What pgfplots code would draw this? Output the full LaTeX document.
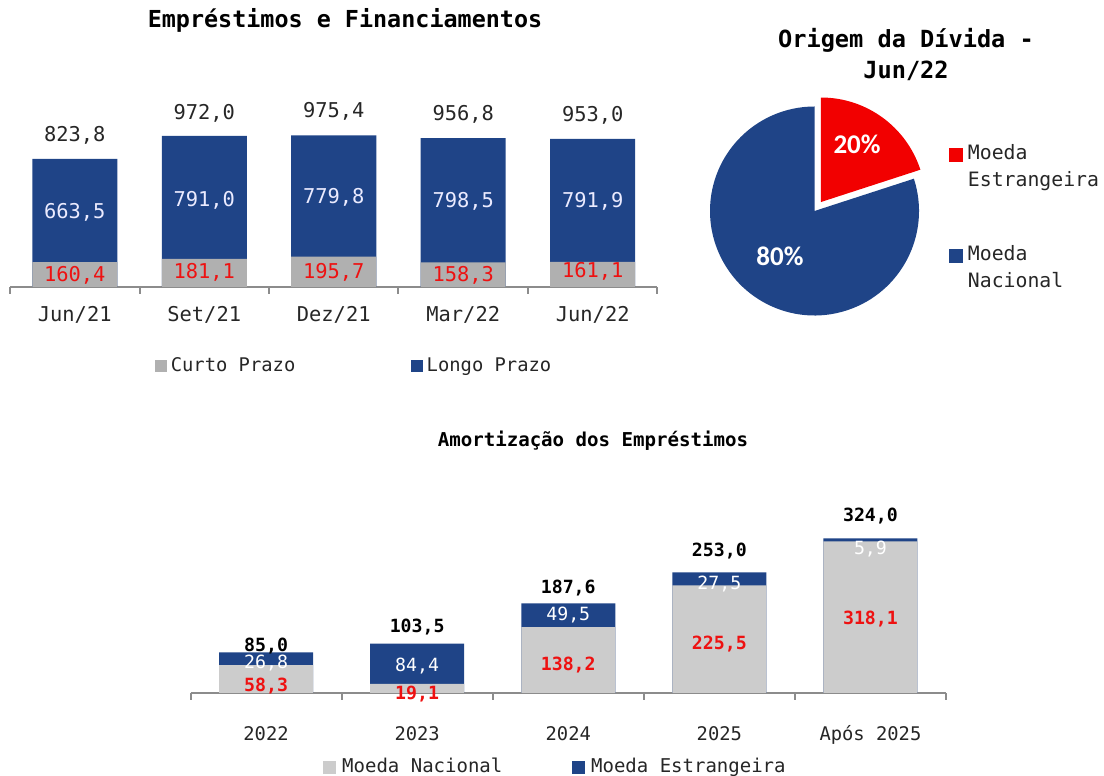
\documentclass[border=0pt]{standalone}
\usepackage{pgfplots}
\pgfplotsset{compat=1.18}
\usepackage{pgfplotstable}
\usepackage{fontspec}
\setmainfont{DejaVu Sans Mono}
\newfontfamily\piefont{Carlito}
\definecolor{cblue}{HTML}{1F4487}
\definecolor{cgrayT}{HTML}{B0B0B0}
\definecolor{cgrayB}{HTML}{CCCCCC}
\definecolor{cred}{HTML}{EE1111}
\definecolor{pred}{HTML}{F20000}
\definecolor{caxis}{HTML}{8C8C8C}

% top chart data
\pgfplotstableread{
x curto longo total
0 160.4 663.5 823.8
1 181.1 791.0 972.0
2 195.7 779.8 975.4
3 158.3 798.5 956.8
4 161.1 791.9 953.0
}\topdata
% label positions (data units)
\pgfplotstableread{
x val pos
0 823.8 984
1 972.0 1122
2 975.4 1136
3 956.8 1120
4 953.0 1110
}\toptot
\pgfplotstableread{
x val pos
0 663.5 489
1 791.0 566
2 779.8 582
3 798.5 556
4 791.9 556
}\toplongo
\pgfplotstableread{
x val pos
0 160.4 85
1 181.1 100
2 195.7 105
3 158.3 85
4 161.1 110
}\topcurto
% bottom chart data
\pgfplotstableread{
x nac est total
0 58.3 26.8 85.0
1 19.1 84.4 103.5
2 138.2 49.5 187.6
3 225.5 27.5 253.0
4 318.1 5.9 324.0
}\botdata
\pgfplotstableread{
x val pos
0 85.0 100.6
1 103.5 140.5
2 187.6 222.2
3 253.0 299.8
4 324.0 373.2
}\bottot
\pgfplotstableread{
x val pos
0 26.8 65
1 84.4 58.7
2 49.5 165.6
3 27.5 230.6
4 5.9 304
}\botest
\pgfplotstableread{
x val pos
0 58.3 16.8
1 19.1 0
2 138.2 60.8
3 225.5 104.8
4 318.1 157.2
}\botnac
% pie data (percent)
\def\pieest{20}
\def\pienac{80}

\pgfplotsset{
  lbl/.style={only marks, mark=*, mark size=0pt, mark options={draw=none,fill=none},
    point meta=explicit, nodes near coords={\pgfmathprintnumber[fixed,fixed zerofill,precision=1,use comma,assume math mode=true]{\pgfplotspointmeta}},
    every node near coord/.append style={anchor=base, inner sep=0pt, #1}},
  sqgrayT/.style={legend image code/.code={\fill[cgrayT] (0pt,-2.75pt) rectangle (5.5pt,2.75pt);}},
  sqgrayB/.style={legend image code/.code={\fill[cgrayB] (0pt,-3pt) rectangle (6pt,3pt);}},
  sqblueT/.style={legend image code/.code={\fill[cblue] (0pt,-2.75pt) rectangle (5.5pt,2.75pt);}},
  sqblueB/.style={legend image code/.code={\fill[cblue] (0pt,-3pt) rectangle (6pt,3pt);}},
  sqblueP/.style={legend image code/.code={\fill[cblue] (0pt,2.55pt) rectangle (6.4pt,8.95pt);}},
  sqredP/.style={legend image code/.code={\fill[pred] (0pt,2.55pt) rectangle (6.4pt,8.95pt);}},
}

\begin{document}
\begin{tikzpicture}
\useasboundingbox (0,0) rectangle (552pt,388pt);
% titles
\node[font=\bfseries\fontsize{11.7}{14}\selectfont] at (172.5pt,378pt) {Empréstimos e Financiamentos};
\node[font=\bfseries\fontsize{11.8}{14}\selectfont] at (453pt,368pt) {Origem da Dívida -};
\node[font=\bfseries\fontsize{11.8}{14}\selectfont] at (453pt,352.5pt) {Jun/22};
\node[font=\bfseries\fontsize{9.55}{12}\selectfont] at (296.5pt,167.5pt) {Amortização dos Empréstimos};

% ---------- top bar chart ----------
\begin{axis}[
  at={(5pt,244.5pt)}, anchor=south west,
  scale only axis, width=323.75pt, height=93.3pt,
  xmin=-0.5, xmax=4.5, ymin=0, ymax=1200,
  axis y line=none, axis x line=bottom,
  x axis line style={-, draw=caxis, line width=1pt},
  xtick={0,...,4}, xticklabels={Jun/21,Set/21,Dez/21,Mar/22,Jun/22},
  major tick length=0pt,
  extra x ticks={-0.5,0.5,1.5,2.5,3.5,4.5}, extra x tick labels={},
  extra x tick style={major tick length=3.5pt, tick align=outside, tick style={draw=caxis, line width=1pt}},
  xticklabel style={font=\fontsize{10.2}{12}\selectfont, anchor=base, yshift=-17.2pt, text=black!85},
  clip=false,
  legend columns=2,
  legend style={at={(0.224,-0.4234)}, anchor=west, draw=none, fill=none, inner sep=0pt,
    font=\fontsize{9.4}{11}\selectfont, text=black!85, nodes={inner sep=0pt},
    /tikz/every odd column/.append style={column sep=1.8pt},
    /tikz/every even column/.append style={column sep=58pt}},
  legend cell align=left,
]
\addlegendimage{sqgrayT}\addlegendentry{Curto Prazo}
\addlegendimage{sqblueT}\addlegendentry{Longo Prazo}
\addplot[ybar, bar width=42.5pt, bar shift=0pt, fill=cblue, draw=none, forget plot] table[x=x, y=total] {\topdata};
\addplot[ybar, bar width=42.5pt, bar shift=0pt, fill=cgrayT, draw=none, forget plot] table[x=x, y=curto] {\topdata};
\addplot[lbl={font=\fontsize{10.2}{12}\selectfont, text=black!85, yshift=-3.7pt}, forget plot] table[x=x, y=pos, meta=val] {\toptot};
\addplot[lbl={font=\fontsize{10.2}{12}\selectfont, text=white!92!blue, yshift=-3.7pt}, forget plot] table[x=x, y=pos, meta=val] {\toplongo};
\addplot[lbl={font=\fontsize{10.2}{12}\selectfont, text=cred, yshift=-3.7pt}, forget plot] table[x=x, y=pos, meta=val] {\topcurto};
\end{axis}

% ---------- pie chart ----------
\begin{axis}[
  at={(407.25pt,282.5pt)}, anchor=center,
  scale only axis, width=125.4pt, height=125.4pt,
  xmin=-1.2, xmax=1.2, ymin=-1.2, ymax=1.2,
  hide axis, clip=false,
  legend style={at={(1.036,0.768)}, anchor=north west, draw=none, fill=none, inner sep=0pt,
    font=\fontsize{9.9}{13.5}\selectfont, text=black!85, nodes={inner sep=0pt, align=left},
    /tikz/every odd column/.append style={column sep=2.5pt},
    /tikz/row sep=28pt},
  legend cell align=left,
]
\addlegendimage{sqredP}\addlegendentry{Moeda\\Estrangeira}
\addlegendimage{sqblueP}\addlegendentry{Moeda\\Nacional}
\pgfmathsetmacro{\angend}{90-3.6*\pieest}
\fill[cblue] (axis cs:0,0) -- (axis cs:{cos(\angend)},{sin(\angend)}) arc[start angle=\angend, end angle=-270, radius=52.25pt] -- cycle;
\fill[pred] (axis cs:0.062,0.086) -- ++(90:52.25pt) arc[start angle=90, end angle=\angend, radius=52.25pt] -- cycle;
\node[text=white, font=\piefont\bfseries\fontsize{13.5}{15}\selectfont] at (axis cs:0.407,0.641) {\pieest\%};
\node[text=white, font=\piefont\bfseries\fontsize{13.5}{15}\selectfont] at (axis cs:-0.33,-0.431) {\pienac\%};
\end{axis}

% ---------- bottom bar chart ----------
\begin{axis}[
  at={(95.25pt,41.5pt)}, anchor=south west,
  scale only axis, width=377.75pt, height=95.4pt,
  xmin=-0.5, xmax=4.5, ymin=0, ymax=400,
  axis y line=none, axis x line=bottom,
  x axis line style={-, draw=caxis, line width=1pt},
  xtick={0,...,4}, xticklabels={2022,2023,2024,2025,Após 2025},
  major tick length=0pt,
  extra x ticks={-0.5,0.5,1.5,2.5,3.5,4.5}, extra x tick labels={},
  extra x tick style={major tick length=3.5pt, tick align=outside, tick style={draw=caxis, line width=1pt}},
  xticklabel style={font=\fontsize{9.4}{12}\selectfont, anchor=base, yshift=-23.8pt, text=black!85},
  clip=false,
  legend columns=2,
  legend style={at={(0.1754,-0.3878)}, anchor=west, draw=none, fill=none, inner sep=0pt,
    font=\fontsize{9.5}{11}\selectfont, text=black!85, nodes={inner sep=0pt},
    /tikz/every odd column/.append style={column sep=3pt},
    /tikz/every even column/.append style={column sep=35pt}},
  legend cell align=left,
]
\addlegendimage{sqgrayB}\addlegendentry{Moeda Nacional}
\addlegendimage{sqblueB}\addlegendentry{Moeda Estrangeira}
\addplot[ybar, bar width=47pt, bar shift=0pt, fill=cblue, draw=none, forget plot] table[x=x, y expr=\thisrow{nac}+\thisrow{est}] {\botdata};
\addplot[ybar, bar width=47pt, bar shift=0pt, fill=cgrayB, draw=none, forget plot] table[x=x, y=nac] {\botdata};
\addplot[lbl={font=\bfseries\fontsize{9.1}{12}\selectfont, text=black, yshift=-3.3pt}, forget plot] table[x=x, y=pos, meta=val] {\bottot};
\addplot[lbl={font=\fontsize{9.1}{12}\selectfont, text=white, yshift=-3.3pt}, forget plot] table[x=x, y=pos, meta=val] {\botest};
\addplot[lbl={font=\bfseries\fontsize{9.1}{12}\selectfont, text=cred, yshift=-3.3pt}, forget plot] table[x=x, y=pos, meta=val] {\botnac};
\end{axis}
\end{tikzpicture}
\end{document}
